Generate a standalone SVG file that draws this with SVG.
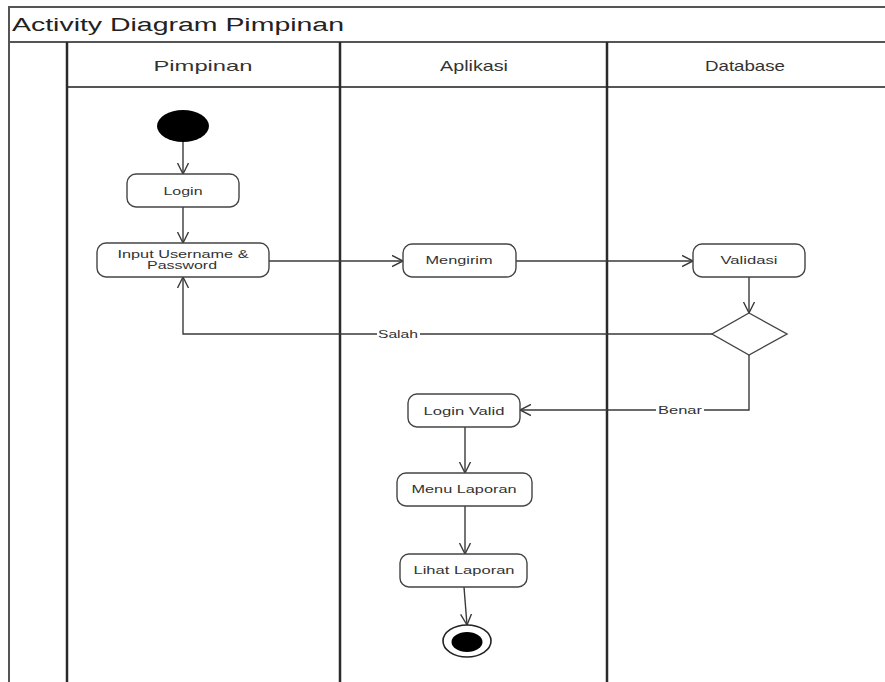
<svg xmlns="http://www.w3.org/2000/svg" width="885" height="682" viewBox="0 0 885 682">
<style>
text{font-family:"Liberation Sans",Arial,sans-serif;fill:#333}
.title{font-size:18px;fill:#222}
.hdr{font-size:15px;fill:#333}
.lbl{font-size:11px}
.box{fill:#fff;stroke:#444;stroke-width:1.4}
.frame{fill:none;stroke:#555;stroke-width:2}
.lane{stroke:#2a2a2a;stroke-width:2.5}
.edge{fill:none;stroke:#3a3a3a;stroke-width:1.4}
</style>
<defs>
<marker id="arr" markerUnits="userSpaceOnUse" markerWidth="14" markerHeight="14" refX="11" refY="6" orient="auto" viewBox="0 0 14 12">
<path d="M0,0.5 L11,6 L0,11.5" fill="none" stroke="#3a3a3a" stroke-width="1.4"/>
</marker>
</defs>
<rect width="885" height="682" fill="#fff"/>
<g id="frame">
<path class="frame" d="M9,682 V7 H885 M9,42 H885 M67,87 H885"/>
<text class="title" x="12" y="31" textLength="332" lengthAdjust="spacingAndGlyphs">Activity Diagram Pimpinan</text>
</g>
<g id="lanes">
<line class="lane" x1="67" y1="42" x2="67" y2="682"/>
<line class="lane" x1="340" y1="42" x2="340" y2="682"/>
<line class="lane" x1="607" y1="42" x2="607" y2="682"/>
<text class="hdr" x="203" y="71" text-anchor="middle" textLength="99" lengthAdjust="spacingAndGlyphs">Pimpinan</text>
<text class="hdr" x="474" y="71" text-anchor="middle" textLength="68" lengthAdjust="spacingAndGlyphs">Aplikasi</text>
<text class="hdr" x="745" y="71" text-anchor="middle" textLength="80" lengthAdjust="spacingAndGlyphs">Database</text>
</g>
<g id="connectors">
<line class="edge" x1="183" y1="142" x2="183" y2="174" marker-end="url(#arr)"/>
<line class="edge" x1="183" y1="207" x2="183" y2="243" marker-end="url(#arr)"/>
<line class="edge" x1="269" y1="261" x2="403" y2="261" marker-end="url(#arr)"/>
<line class="edge" x1="516" y1="261" x2="693" y2="261" marker-end="url(#arr)"/>
<line class="edge" x1="749" y1="277" x2="749" y2="313" marker-end="url(#arr)"/>
<path class="edge" d="M712,334 H183 V277" marker-end="url(#arr)"/>
<path class="edge" d="M749,355 V410 H520" marker-end="url(#arr)"/>
<line class="edge" x1="465" y1="427" x2="465" y2="473" marker-end="url(#arr)"/>
<line class="edge" x1="465" y1="506" x2="465" y2="554" marker-end="url(#arr)"/>
<line class="edge" x1="464" y1="587" x2="467" y2="625" marker-end="url(#arr)"/>
<rect x="377" y="327" width="43" height="14" fill="#fff"/>
<text class="lbl" x="398" y="338" text-anchor="middle" textLength="40" lengthAdjust="spacingAndGlyphs">Salah</text>
<rect x="656" y="403" width="48" height="14" fill="#fff"/>
<text class="lbl" x="680" y="414" text-anchor="middle" textLength="44" lengthAdjust="spacingAndGlyphs">Benar</text>
</g>
<g id="start">
<ellipse cx="183" cy="126" rx="26" ry="16" fill="#000"/>
</g>
<g id="login">
<rect class="box" x="127" y="174" width="112" height="33" rx="9"/>
<text class="lbl" x="183" y="195" text-anchor="middle" textLength="39" lengthAdjust="spacingAndGlyphs">Login</text>
</g>
<g id="input">
<rect class="box" x="97" y="243" width="172" height="34" rx="9"/>
<text class="lbl" x="183" y="258" text-anchor="middle" textLength="131" lengthAdjust="spacingAndGlyphs">Input Username &amp;</text>
<text class="lbl" x="182" y="269" text-anchor="middle" textLength="70" lengthAdjust="spacingAndGlyphs">Password</text>
</g>
<g id="mengirim">
<rect class="box" x="403" y="244" width="113" height="33" rx="9"/>
<text class="lbl" x="459" y="264" text-anchor="middle" textLength="67" lengthAdjust="spacingAndGlyphs">Mengirim</text>
</g>
<g id="validasi">
<rect class="box" x="693" y="244" width="112" height="33" rx="9"/>
<text class="lbl" x="749" y="264" text-anchor="middle" textLength="57" lengthAdjust="spacingAndGlyphs">Validasi</text>
</g>
<g id="decision">
<polygon points="749,313 787,334 749,355 712,334" fill="#fff" stroke="#444" stroke-width="1.4"/>
</g>
<g id="loginvalid">
<rect class="box" x="408" y="394" width="112" height="33" rx="9"/>
<text class="lbl" x="464" y="415" text-anchor="middle" textLength="81" lengthAdjust="spacingAndGlyphs">Login Valid</text>
</g>
<g id="menulaporan">
<rect class="box" x="397" y="473" width="135" height="33" rx="9"/>
<text class="lbl" x="464" y="493" text-anchor="middle" textLength="105" lengthAdjust="spacingAndGlyphs">Menu Laporan</text>
</g>
<g id="lihatlaporan">
<rect class="box" x="400" y="554" width="127" height="33" rx="9"/>
<text class="lbl" x="464" y="574" text-anchor="middle" textLength="101" lengthAdjust="spacingAndGlyphs">Lihat Laporan</text>
</g>
<g id="end">
<ellipse cx="467" cy="641" rx="24" ry="16" fill="#fff" stroke="#222" stroke-width="1.6"/>
<ellipse cx="467" cy="642" rx="15.5" ry="10" fill="#000"/>
</g>
</svg>
